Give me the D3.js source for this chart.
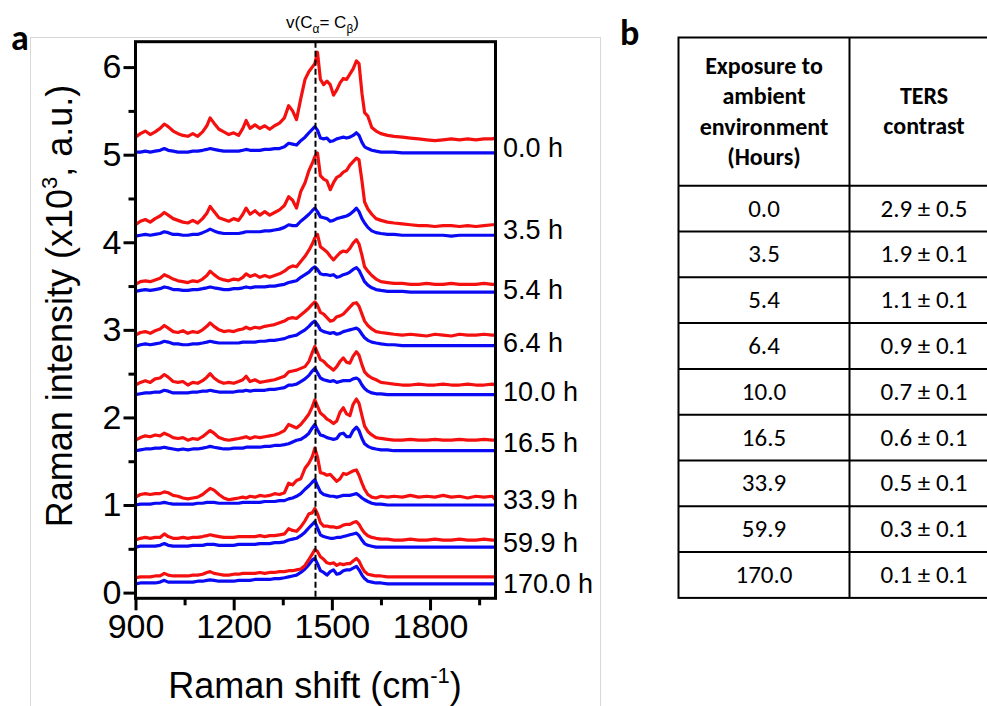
<!DOCTYPE html>
<html><head><meta charset="utf-8">
<script src="https://cdn.jsdelivr.net/npm/d3@7"></script>
<style>body{margin:0;background:#fff} svg{display:block}</style>
</head><body>
<svg id="c" width="987" height="706"></svg>
<script>
// ---------- DATA ----------
const shift = [900,915,930,945,960,975,988,1000,
1015,1030,1045,1060,1075,1090,1105,1118,
1128,1140,1155,1170,1185,1200,1215,1228,
1238,1250,1265,1280,1295,1310,1325,1340,
1355,1368,1380,1392,1405,1418,1430,1440,
1448,1456,1465,1475,1485,1495,1505,1515,
1525,1535,1545,1555,1565,1575,1583,1592,
1600,1610,1622,1635,1650,1670,1690,1715,
1740,1765,1790,1815,1840,1865,1890,1915,
1940,1965,1990,2000];

const hours = ["0.0","3.5","5.4","6.4","10.0","16.5","33.9","59.9","170.0"];
const contrast = ["2.9 ± 0.5","1.9 ± 0.1","1.1 ± 0.1","0.9 ± 0.1","0.7 ± 0.1","0.6 ± 0.1","0.5 ± 0.1","0.3 ± 0.1","0.1 ± 0.1"];
const labelLevel = [5.08,4.15,3.46,2.85,2.30,1.71,1.06,0.57,0.10];
const xTicks = [900,1200,1500,1800];
const xMinor = [1050,1350,1650,1950];
const yTicks = [0,1,2,3,4,5,6];
const yMinor = [0.5,1.5,2.5,3.5,4.5,5.5];
const markerShift = 1450;

const red_0_0 = [5.20,5.24,5.27,5.23,5.26,5.30,5.35,5.32,
5.27,5.24,5.22,5.21,5.24,5.21,5.26,5.33,
5.42,5.36,5.29,5.26,5.23,5.25,5.22,5.30,
5.39,5.30,5.34,5.30,5.33,5.29,5.33,5.36,
5.42,5.56,5.50,5.40,5.64,5.86,5.95,6.00,
6.04,6.17,5.86,5.80,5.84,5.80,5.68,5.74,
5.82,5.87,5.86,5.92,5.98,6.07,6.04,5.70,
5.48,5.44,5.31,5.27,5.24,5.22,5.21,5.20,
5.19,5.18,5.17,5.16,5.17,5.18,5.17,5.18,
5.17,5.18,5.18,5.19];
const blue_0_0 = [5.03,5.03,5.04,5.03,5.04,5.05,5.07,5.05,
5.04,5.03,5.03,5.03,5.04,5.04,5.05,5.06,
5.07,5.06,5.05,5.04,5.04,5.04,5.04,5.05,
5.06,5.05,5.05,5.05,5.06,5.06,5.07,5.07,
5.09,5.13,5.12,5.11,5.16,5.20,5.25,5.29,
5.32,5.28,5.19,5.18,5.19,5.15,5.16,5.18,
5.19,5.20,5.19,5.20,5.22,5.25,5.22,5.14,
5.09,5.07,5.05,5.04,5.03,5.03,5.03,5.02,
5.02,5.02,5.02,5.02,5.02,5.02,5.02,5.02,
5.02,5.02,5.02,5.02];
const red_3_5 = [4.20,4.24,4.26,4.23,4.27,4.30,4.34,4.31,
4.27,4.25,4.23,4.22,4.25,4.22,4.27,4.33,
4.41,4.35,4.28,4.26,4.24,4.27,4.25,4.32,
4.39,4.32,4.36,4.31,4.35,4.31,4.34,4.37,
4.42,4.52,4.48,4.39,4.58,4.68,4.82,4.90,
4.98,5.02,4.76,4.72,4.70,4.60,4.68,4.74,
4.76,4.80,4.82,4.88,4.92,4.96,4.94,4.70,
4.46,4.38,4.32,4.27,4.25,4.23,4.22,4.21,
4.20,4.19,4.19,4.18,4.19,4.19,4.18,4.19,
4.18,4.19,4.20,4.20];
const blue_3_5 = [4.07,4.08,4.09,4.08,4.09,4.10,4.12,4.11,
4.09,4.09,4.08,4.08,4.09,4.09,4.11,4.13,
4.15,4.13,4.11,4.10,4.10,4.10,4.10,4.11,
4.12,4.12,4.12,4.12,4.13,4.13,4.14,4.15,
4.17,4.20,4.19,4.19,4.24,4.28,4.32,4.36,
4.39,4.35,4.29,4.28,4.27,4.24,4.25,4.27,
4.28,4.29,4.30,4.32,4.35,4.39,4.35,4.27,
4.22,4.17,4.13,4.11,4.10,4.09,4.09,4.08,
4.08,4.08,4.08,4.08,4.08,4.07,4.08,4.08,
4.08,4.08,4.08,4.08];
const red_5_4 = [3.52,3.55,3.56,3.55,3.57,3.59,3.63,3.61,
3.58,3.56,3.55,3.54,3.56,3.55,3.58,3.62,
3.67,3.63,3.59,3.57,3.56,3.58,3.57,3.60,
3.64,3.61,3.63,3.60,3.62,3.60,3.62,3.64,
3.67,3.71,3.73,3.72,3.78,3.84,3.91,3.98,
4.05,4.09,3.95,3.92,3.89,3.84,3.80,3.84,
3.88,3.90,3.89,3.93,3.99,4.03,3.98,3.85,
3.72,3.67,3.62,3.58,3.55,3.54,3.53,3.53,
3.52,3.52,3.53,3.52,3.52,3.53,3.52,3.52,
3.52,3.53,3.52,3.52];
const blue_5_4 = [3.44,3.45,3.46,3.45,3.46,3.47,3.49,3.48,
3.46,3.46,3.45,3.45,3.46,3.46,3.47,3.48,
3.49,3.48,3.47,3.46,3.46,3.47,3.47,3.48,
3.49,3.48,3.49,3.49,3.49,3.50,3.50,3.51,
3.52,3.54,3.55,3.56,3.60,3.63,3.66,3.70,
3.72,3.69,3.64,3.63,3.63,3.62,3.63,3.60,
3.61,3.63,3.64,3.66,3.69,3.71,3.68,3.61,
3.55,3.51,3.48,3.46,3.45,3.44,3.44,3.44,
3.43,3.43,3.43,3.43,3.43,3.43,3.43,3.43,
3.43,3.43,3.43,3.43];
const red_6_4 = [2.94,2.97,2.98,2.96,2.99,3.01,3.05,3.02,
2.98,2.97,2.99,2.96,2.98,2.97,3.00,3.04,
3.08,3.04,3.00,2.98,2.99,2.98,3.00,3.01,
3.03,3.01,3.03,3.02,3.04,3.05,3.06,3.08,
3.10,3.13,3.14,3.13,3.17,3.21,3.25,3.29,
3.32,3.28,3.20,3.18,3.14,3.10,3.11,3.15,
3.16,3.18,3.22,3.26,3.30,3.31,3.27,3.18,
3.10,3.05,3.01,2.98,2.97,2.96,2.95,2.94,
2.95,2.94,2.93,2.95,2.94,2.93,2.95,2.94,
2.94,2.95,2.94,2.94];
const blue_6_4 = [2.81,2.83,2.84,2.83,2.84,2.85,2.87,2.86,
2.84,2.84,2.83,2.83,2.84,2.84,2.85,2.86,
2.87,2.86,2.85,2.85,2.85,2.85,2.85,2.86,
2.86,2.86,2.86,2.87,2.87,2.88,2.88,2.89,
2.90,2.92,2.93,2.94,2.97,3.00,3.04,3.08,
3.10,3.06,3.00,2.98,2.97,2.96,2.97,2.95,
2.96,2.98,2.99,3.00,3.01,3.02,3.00,2.95,
2.91,2.88,2.86,2.85,2.84,2.83,2.83,2.82,
2.82,2.82,2.82,2.82,2.82,2.82,2.82,2.82,
2.82,2.82,2.82,2.82];
const red_10_0 = [2.37,2.40,2.42,2.40,2.44,2.45,2.49,2.46,
2.41,2.40,2.41,2.37,2.40,2.39,2.42,2.46,
2.50,2.45,2.41,2.39,2.40,2.39,2.41,2.43,
2.47,2.41,2.43,2.40,2.41,2.42,2.43,2.45,
2.47,2.52,2.53,2.54,2.56,2.58,2.64,2.74,
2.81,2.74,2.66,2.64,2.60,2.57,2.54,2.58,
2.64,2.68,2.63,2.62,2.70,2.75,2.71,2.60,
2.52,2.48,2.45,2.43,2.40,2.39,2.38,2.37,
2.37,2.38,2.37,2.37,2.38,2.37,2.37,2.38,
2.37,2.37,2.38,2.37];
const blue_10_0 = [2.26,2.27,2.28,2.28,2.29,2.29,2.31,2.30,
2.28,2.28,2.28,2.28,2.29,2.29,2.30,2.30,
2.31,2.30,2.29,2.29,2.29,2.29,2.30,2.30,
2.31,2.30,2.31,2.31,2.31,2.32,2.32,2.33,
2.34,2.37,2.37,2.38,2.41,2.44,2.48,2.53,
2.56,2.51,2.45,2.43,2.42,2.41,2.42,2.40,
2.41,2.42,2.42,2.42,2.44,2.45,2.43,2.37,
2.33,2.30,2.28,2.27,2.27,2.26,2.26,2.26,
2.26,2.26,2.26,2.26,2.26,2.26,2.26,2.26,
2.26,2.26,2.26,2.26];
const red_16_5 = [1.74,1.77,1.79,1.78,1.80,1.79,1.82,1.80,
1.77,1.76,1.77,1.74,1.76,1.75,1.78,1.82,
1.85,1.82,1.77,1.75,1.74,1.75,1.76,1.77,
1.78,1.76,1.78,1.77,1.78,1.79,1.80,1.82,
1.85,1.92,1.90,1.88,1.92,1.98,2.04,2.12,
2.20,2.13,2.05,2.02,1.98,1.96,1.93,1.96,
2.06,2.11,2.04,2.02,2.15,2.21,2.16,2.02,
1.90,1.84,1.80,1.77,1.76,1.75,1.74,1.74,
1.75,1.74,1.74,1.75,1.74,1.74,1.75,1.74,
1.74,1.75,1.74,1.74];
const blue_16_5 = [1.62,1.63,1.64,1.64,1.65,1.65,1.66,1.65,
1.64,1.63,1.64,1.63,1.64,1.64,1.65,1.66,
1.67,1.66,1.65,1.64,1.64,1.65,1.65,1.65,
1.66,1.66,1.66,1.66,1.67,1.67,1.68,1.68,
1.69,1.70,1.72,1.74,1.75,1.78,1.82,1.88,
1.92,1.86,1.80,1.79,1.77,1.76,1.75,1.76,
1.81,1.82,1.78,1.78,1.85,1.89,1.85,1.76,
1.70,1.67,1.65,1.64,1.63,1.63,1.62,1.62,
1.62,1.62,1.62,1.62,1.62,1.62,1.62,1.62,
1.62,1.62,1.62,1.62];
const red_33_9 = [1.09,1.12,1.13,1.12,1.13,1.13,1.15,1.14,
1.11,1.10,1.08,1.07,1.08,1.09,1.12,1.16,
1.19,1.17,1.12,1.08,1.06,1.07,1.08,1.09,
1.08,1.10,1.09,1.11,1.10,1.11,1.13,1.12,
1.14,1.25,1.23,1.28,1.30,1.42,1.48,1.55,
1.65,1.55,1.37,1.36,1.34,1.35,1.31,1.27,
1.30,1.36,1.35,1.37,1.39,1.40,1.34,1.25,
1.18,1.12,1.09,1.08,1.10,1.09,1.10,1.09,
1.11,1.09,1.10,1.09,1.11,1.09,1.10,1.08,
1.10,1.09,1.10,1.06];
const blue_33_9 = [1.00,1.01,1.01,1.01,1.02,1.02,1.03,1.02,
1.01,1.01,1.01,1.01,1.01,1.02,1.02,1.03,
1.03,1.03,1.02,1.02,1.02,1.02,1.02,1.03,
1.03,1.03,1.03,1.03,1.04,1.04,1.04,1.05,
1.05,1.07,1.08,1.10,1.13,1.18,1.22,1.26,
1.29,1.22,1.15,1.12,1.11,1.10,1.10,1.09,
1.10,1.11,1.11,1.11,1.12,1.13,1.11,1.08,
1.06,1.04,1.02,1.01,1.01,1.00,1.00,1.00,
1.00,1.00,1.00,1.00,1.00,1.00,1.00,1.00,
1.00,1.00,1.00,1.00];
const red_59_9 = [0.60,0.62,0.63,0.62,0.63,0.63,0.67,0.64,
0.62,0.62,0.63,0.62,0.63,0.63,0.64,0.65,
0.66,0.65,0.64,0.63,0.63,0.63,0.64,0.64,
0.64,0.64,0.64,0.65,0.64,0.65,0.65,0.66,
0.67,0.73,0.71,0.70,0.75,0.82,0.90,0.91,
0.96,0.90,0.80,0.76,0.76,0.75,0.75,0.74,
0.75,0.77,0.78,0.78,0.80,0.81,0.78,0.72,
0.68,0.65,0.63,0.62,0.61,0.61,0.60,0.60,
0.61,0.60,0.60,0.61,0.60,0.60,0.61,0.60,
0.60,0.61,0.60,0.60];
const blue_59_9 = [0.52,0.53,0.53,0.53,0.53,0.54,0.56,0.54,
0.53,0.53,0.53,0.53,0.54,0.54,0.54,0.55,
0.55,0.55,0.54,0.54,0.54,0.54,0.55,0.55,
0.55,0.55,0.55,0.56,0.56,0.56,0.57,0.57,
0.58,0.60,0.61,0.62,0.65,0.69,0.74,0.78,
0.81,0.74,0.66,0.64,0.63,0.62,0.62,0.63,
0.63,0.64,0.65,0.66,0.67,0.68,0.65,0.60,
0.56,0.54,0.53,0.52,0.52,0.52,0.52,0.52,
0.52,0.52,0.52,0.52,0.52,0.52,0.52,0.52,
0.52,0.52,0.52,0.52];
const red_170_0 = [0.17,0.18,0.18,0.18,0.19,0.19,0.22,0.20,
0.19,0.19,0.19,0.19,0.20,0.20,0.21,0.23,
0.24,0.22,0.21,0.20,0.20,0.21,0.21,0.22,
0.22,0.22,0.22,0.23,0.22,0.23,0.23,0.24,
0.24,0.25,0.25,0.26,0.27,0.31,0.38,0.44,
0.49,0.47,0.41,0.38,0.34,0.33,0.34,0.31,
0.33,0.32,0.33,0.33,0.36,0.39,0.36,0.29,
0.24,0.21,0.20,0.19,0.19,0.18,0.18,0.18,
0.18,0.18,0.18,0.18,0.18,0.18,0.18,0.18,
0.18,0.18,0.18,0.18];
const blue_170_0 = [0.10,0.11,0.11,0.11,0.11,0.12,0.14,0.12,
0.12,0.12,0.12,0.12,0.12,0.13,0.13,0.14,
0.145,0.14,0.13,0.13,0.13,0.13,0.14,0.14,
0.14,0.14,0.15,0.15,0.15,0.15,0.16,0.16,
0.17,0.18,0.19,0.20,0.23,0.27,0.32,0.37,
0.39,0.33,0.25,0.23,0.20,0.24,0.26,0.21,
0.22,0.25,0.26,0.26,0.28,0.30,0.26,0.20,
0.16,0.13,0.12,0.11,0.11,0.10,0.10,0.10,
0.10,0.10,0.10,0.10,0.10,0.10,0.10,0.10,
0.10,0.10,0.10,0.10];

const redSeries = [red_0_0,red_3_5,red_5_4,red_6_4,red_10_0,red_16_5,red_33_9,red_59_9,red_170_0];
const blueSeries = [blue_0_0,blue_3_5,blue_5_4,blue_6_4,blue_10_0,blue_16_5,blue_33_9,blue_59_9,blue_170_0];

// ---------- DRAW ----------
const svg = d3.select("#c");
const X0 = 135.5, X1 = 495.5, Y0 = 598.3, Y1 = 41.7;
const x = d3.scaleLinear().domain([900, 2000]).range([X0, X1]);
const y = d3.scaleLinear().domain([-0.065, 6.29]).range([Y0, Y1]);
const AX = "Liberation Sans, Arial, Helvetica, sans-serif";
const TF = "Carlito, Calibri, Lato, sans-serif";

// light panel border
svg.append("rect").attr("x",30.5).attr("y",37.5).attr("width",570).attr("height",700)
  .attr("fill","none").attr("stroke","#d8d8d8").attr("stroke-width",1);

// panel letters
svg.append("text").attr("x",11).attr("y",50).attr("font-family",TF)
  .attr("font-weight","900").attr("font-size",36).text("a");
svg.append("text").attr("x",620).attr("y",45).attr("font-family",TF)
  .attr("font-weight","900").attr("font-size",36).text("b");

const line = d3.line().x((d,i)=>x(shift[i])).y(d=>y(d));
const g = svg.append("g");
blueSeries.forEach(s=>{
  g.append("path").attr("d",line(s)).attr("fill","none").attr("stroke","#0a0af5")
   .attr("stroke-width",3.2).attr("stroke-linejoin","round").attr("stroke-linecap","round");
});
redSeries.forEach(s=>{
  g.append("path").attr("d",line(s)).attr("fill","none").attr("stroke","#f51010")
   .attr("stroke-width",3.2).attr("stroke-linejoin","round").attr("stroke-linecap","round");
});

// dashed marker
svg.append("line").attr("x1",x(markerShift)).attr("x2",x(markerShift)).attr("y1",Y1).attr("y2",Y0)
  .attr("stroke","#000").attr("stroke-width",2).attr("stroke-dasharray","6,3");

// frame
svg.append("rect").attr("x",X0).attr("y",Y1).attr("width",X1-X0).attr("height",Y0-Y1)
  .attr("fill","none").attr("stroke","#000").attr("stroke-width",3);

// axes
svg.append("g").attr("transform",`translate(0,${Y0})`)
  .call(d3.axisBottom(x).tickValues(xTicks).tickSize(12).tickPadding(4).tickFormat(d3.format("d")));
svg.append("g").attr("transform",`translate(0,${Y0})`)
  .call(d3.axisBottom(x).tickValues(xMinor).tickSize(7).tickFormat(""));
svg.append("g").attr("transform",`translate(${X0},0)`)
  .call(d3.axisLeft(y).tickValues(yTicks).tickSize(12).tickPadding(2).tickFormat(d3.format("d")));
svg.append("g").attr("transform",`translate(${X0},0)`)
  .call(d3.axisLeft(y).tickValues(yMinor).tickSize(7).tickFormat(""));
svg.selectAll(".domain").remove();
svg.selectAll(".tick line").attr("stroke","#000").attr("stroke-width",3);
svg.selectAll(".tick text").attr("font-family",AX).attr("font-size",34).attr("fill","#000");

// axis titles
const xt = svg.append("text").attr("x",315).attr("y",698).attr("text-anchor","middle")
  .attr("font-family",AX).attr("font-size",36);
xt.append("tspan").text("Raman shift (cm");
xt.append("tspan").attr("font-size",22).attr("dy",-15).text("-1");
xt.append("tspan").attr("dy",15).text(")");

const yt = svg.append("text").attr("transform","translate(72,306) rotate(-90)").attr("text-anchor","middle")
  .attr("font-family",AX).attr("font-size",36);
yt.append("tspan").text("Raman intensity (x10");
yt.append("tspan").attr("font-size",22).attr("dy",-15).text("3");
yt.append("tspan").attr("dy",15).text(", a.u.)");

// top marker label
const tl = svg.append("text").attr("x",x(markerShift)+7).attr("y",28).attr("text-anchor","middle")
  .attr("font-family",AX).attr("font-size",17);
tl.append("tspan").text("v(C");
tl.append("tspan").attr("font-size",12).attr("dy",5).text("α");
tl.append("tspan").attr("dy",-5).text("= C");
tl.append("tspan").attr("font-size",12).attr("dy",5).text("β");
tl.append("tspan").attr("dy",-5).text(")");

// series labels
svg.append("g").selectAll("text").data(hours).join("text")
  .attr("x",503).attr("y",(d,i)=>y(labelLevel[i])+9.5)
  .attr("font-family",AX).attr("font-size",27).text(d=>d+" h");

// ---------- TABLE ----------
const TL = 678.5, TD = 849.5, TR = 998.5, TT = 37.5, TH = 185.7, RH = 45.8;
const rowY = d3.scaleLinear().domain([0, hours.length]).range([TH, TH + RH*hours.length]);
const tb = svg.append("g");
tb.append("rect").attr("x",TL).attr("y",TT).attr("width",TR-TL).attr("height",rowY(hours.length)-TT)
  .attr("fill","none").attr("stroke","#000").attr("stroke-width",2);
tb.append("line").attr("x1",TD).attr("x2",TD).attr("y1",TT).attr("y2",rowY(hours.length))
  .attr("stroke","#000").attr("stroke-width",2);
d3.range(hours.length).forEach(i=>{
  tb.append("line").attr("x1",TL).attr("x2",TR).attr("y1",rowY(i)).attr("y2",rowY(i))
    .attr("stroke","#000").attr("stroke-width",2);
});
const h1 = ["Exposure to","ambient","environment","(Hours)"];
h1.forEach((t,i)=>tb.append("text").attr("x",(TL+TD)/2).attr("y",74+i*30.3).attr("text-anchor","middle")
  .attr("font-family",TF).attr("font-weight","bold").attr("font-size",24).text(t));
["TERS","contrast"].forEach((t,i)=>tb.append("text").attr("x",(TD+TR)/2).attr("y",104+i*30.3).attr("text-anchor","middle")
  .attr("font-family",TF).attr("font-weight","bold").attr("font-size",24).text(t));
hours.forEach((h,i)=>{
  tb.append("text").attr("x",(TL+TD)/2).attr("y",rowY(i+0.5)+8).attr("text-anchor","middle")
    .attr("font-family",TF).attr("font-size",25).text(h);
  tb.append("text").attr("x",(TD+TR)/2).attr("y",rowY(i+0.5)+8).attr("text-anchor","middle")
    .attr("font-family",TF).attr("font-size",25).text(contrast[i]);
});
</script>
</body></html>
